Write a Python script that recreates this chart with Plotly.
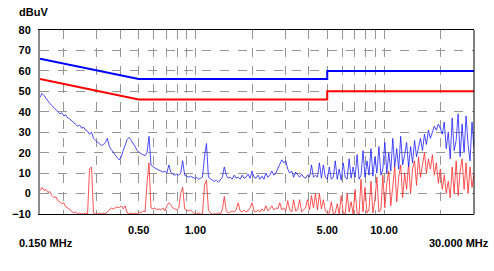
import numpy as np
import plotly.graph_objects as go

# Sweep grid (log-spaced receiver steps), 0.15 - 30 MHz
N_STEPS = 220
F_START, F_STOP = 0.15, 30.0

# Peak scan (blue), dBuV
peak_scan = [
    47, 49, 48, 46.5, 45, 44, 43, 42, 40.5, 40, 39, 39.5, 38, 38.5, 37, 36.5, 35.5, 34.5, 34, 33,
    33.5, 32, 32.5, 31, 30.5, 29, 30, 27, 26, 25, 24, 23.5, 24, 25, 27, 23, 21.5, 20, 19, 17.5,
    16.5, 18, 21, 24, 26.5, 27.5, 26, 25, 23, 21, 20, 19.5, 19, 18.5, 20, 28, 14, 13, 12.5, 12,
    11.5, 11, 10.5, 11, 10, 14, 10.5, 9.5, 9, 9.5, 9, 10, 16, 9, 8.5, 8, 8.5, 8, 7.5, 8,
    7, 7.5, 8, 18, 24.5, 8, 7, 6.5, 6, 6.5, 5.5, 7, 8, 13, 9, 7.5, 8, 7, 9, 7.5,
    8, 7, 9, 7.5, 8, 9.5, 7.5, 11, 8, 7.5, 9, 7, 8.5, 7, 10, 8, 9, 11, 9, 10,
    12, 14, 16.5, 15, 16, 12, 10, 11, 8, 10.5, 9, 8, 9.5, 8, 7.5, 9, 8, 14, 8, 9,
    8, 15, 7.5, 14, 8, 7, 13, 7, 8, 16, 7, 12, 6.5, 15, 8, 7, 17, 7.5, 13, 8,
    19, 7, 9, 21, 8, 16, 9, 22, 8.5, 18, 10, 23, 9, 12, 25, 10, 20, 11, 27, 13,
    22, 12, 28, 14, 19, 25, 13, 23, 15, 26, 18, 22, 27, 21, 29, 24, 31, 27, 30, 33,
    31, 34, 32, 29, 35, 22, 30, 17, 37, 21, 26, 39, 18, 34, 20, 38, 24, 16, 35, 22,
]

# Average scan (red), dBuV
avg_scan = [
    1.5, 3, 1.5, 2, 0.5, 1, -1, -2, -1.5, -3.5, -4, -5, -4.5, -6.5, -7, -8, -8.5, -9.5, -9, -10,
    -9.5, -10, -10, -9.5, -10, 12, 13, -9.5, -10, -10, -9.5, -10, -9.5, -10, -9, -8, -7, -7.5, -7, -6.5,
    -7, -6, -7.5, -6, -9.5, -10, -9.5, -10, -9.5, -10, -9, -9.5, -8.5, -9, 5, 15, -7, -7.5, -7, -8,
    -7.5, -8, -7, -8.5, -6, -4.5, -5.5, -7, -7.5, -8, -7, 0, 3, -7.5, -8, -8.5, -8, -9, -10, -10,
    -9.5, -10, -10, 4, 6.5, -8, -9.5, -10, -10, -10, -9.5, -10, -8, -1.5, -8.5, -9.5, -9, -8.5, -9, -8,
    -4.5, -8.5, -9, -8, -9, -8.5, -7, -4.5, -8.5, -9, -8, -9, -7.5, -8.5, -6, -8.5, -7.5, -6, -8, -7,
    -7.5, -4.5, -8, -7, -8.5, -3.5, -8, -9, -3, -8.5, -8, -3, -9, -8, -7, -3, -8, -1, -7, 0,
    -8, 0, -7.5, -3, -8.5, -9.5, -9.5, -4, -10, -9.5, -5, -10, -1, -9.5, -10, 0, -9, -4, -10, 2,
    -9.5, -10, 7, -9, 3, -9.5, -8, 6, -9.5, -3, 8, -9, -8, 9, -7, 5, 11, -6, 4, 13,
    -4, 8, 14, -2, 10, 2, 15, 0, 12, 16, 4, 18, 8, 14, 20, 10, 17, 12, 19, 9,
    15, 5, 12, 2, 9, 0, 6, -2, 13, 0, 16, -1, 11, 17, 2, 15, 0, 13, 3, 10,
]

# Limit lines (EN 55022 class B style)
qp_limit_f = [0.15, 0.5, 5.0, 5.0, 30.0]
qp_limit_v = [66, 56, 56, 60, 60]
av_limit_f = [0.15, 0.5, 5.0, 5.0, 30.0]
av_limit_v = [56, 46, 46, 50, 50]

y_ticks = [80, 70, 60, 50, 40, 30, 20, 10, 0, -10]
grid_f = [0.2, 0.3, 0.4, 0.5, 0.6, 0.7, 0.8, 0.9, 1, 2, 3, 4, 5, 6, 7, 8, 9, 10, 20]
labelled_f = {0.5: "0.50", 1: "1.00", 5: "5.00", 10: "10.00"}

freqs = np.geomspace(F_START, F_STOP, N_STEPS)

FONT = "Liberation Sans, Arial, sans-serif"

fig = go.Figure()
fig.add_trace(go.Scatter(x=freqs, y=avg_scan, mode="lines",
                         line=dict(color="rgb(255,40,40)", width=0.8), hoverinfo="skip"))
fig.add_trace(go.Scatter(x=freqs, y=peak_scan, mode="lines",
                         line=dict(color="rgb(30,30,255)", width=0.8), hoverinfo="skip"))
fig.add_trace(go.Scatter(x=av_limit_f, y=av_limit_v, mode="lines",
                         line=dict(color="rgb(255,0,0)", width=2), hoverinfo="skip"))
fig.add_trace(go.Scatter(x=qp_limit_f, y=qp_limit_v, mode="lines",
                         line=dict(color="rgb(0,0,255)", width=2), hoverinfo="skip"))

fig.update_layout(
    width=494, height=271,
    margin=dict(l=37, r=20, t=30, b=57),
    paper_bgcolor="white", plot_bgcolor="white",
    showlegend=False,
    font=dict(family=FONT, size=11, color="black"),
    xaxis=dict(
        type="log",
        range=[np.log10(F_START), np.log10(F_STOP)],
        tickvals=grid_f,
        ticktext=[labelled_f.get(f, "") for f in grid_f],
        tickfont=dict(family=FONT, size=11, color="black", weight="bold"),
        showgrid=True, gridcolor="rgb(150,150,150)", griddash="dash", gridwidth=1,
        showline=True, linecolor="black", linewidth=1, mirror=True,
        ticks="", ticklabelstandoff=6,
        zeroline=False,
    ),
    yaxis=dict(
        range=[-10, 80],
        tickvals=y_ticks,
        tickfont=dict(family=FONT, size=11, color="black", weight="bold"),
        showgrid=True, gridcolor="rgb(150,150,150)", griddash="dash", gridwidth=1,
        showline=True, linecolor="rgb(140,140,140)", linewidth=2,
        ticks="", ticklabelstandoff=5,
        zeroline=False,
    ),
    shapes=[dict(type="line", xref="paper", yref="paper", x0=1, x1=1, y0=0, y1=1,
                 line=dict(color="black", width=1))],
    annotations=[
        dict(text="<b>dBuV</b>", xref="paper", yref="paper", x=-23/437, y=1 + 18/184,
             xanchor="left", yanchor="middle", showarrow=False,
             font=dict(family=FONT, size=11, color="black")),
        dict(text="<b>0.150 MHz</b>", xref="paper", yref="paper", x=-23/437, y=-29/184,
             xanchor="left", yanchor="middle", showarrow=False,
             font=dict(family=FONT, size=11, color="black")),
        dict(text="<b>30.000 MHz</b>", xref="paper", yref="paper", x=(491-37)/437, y=-29/184,
             xanchor="right", yanchor="middle", showarrow=False,
             font=dict(family=FONT, size=11, color="black")),
    ],
)

fig.write_html("out.html")
